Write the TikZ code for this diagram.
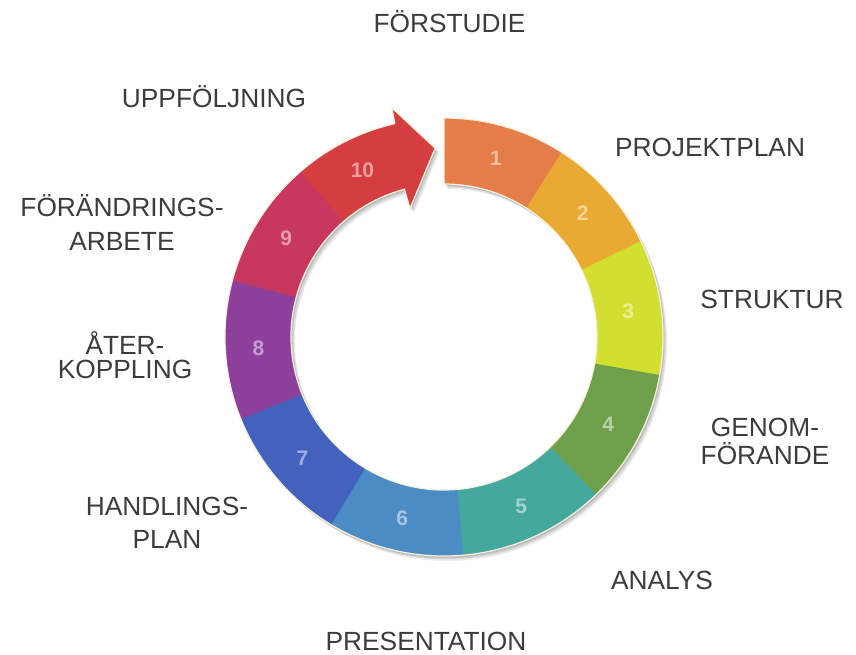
\documentclass[tikz,border=0pt]{standalone}
\usepackage{fontspec}
\setmainfont{Liberation Sans}

% colours of the ten steps
\definecolor{steg1}{HTML}{E47D48}
\definecolor{steg2}{HTML}{E8AA32}
\definecolor{steg3}{HTML}{D3DF30}
\definecolor{steg4}{HTML}{6EA04B}
\definecolor{steg5}{HTML}{44A89E}
\definecolor{steg6}{HTML}{4C8CC4}
\definecolor{steg7}{HTML}{4262BE}
\definecolor{steg8}{HTML}{8C409C}
\definecolor{steg9}{HTML}{C8385E}
\definecolor{steg10}{HTML}{D43E40}
\definecolor{labelgray}{HTML}{3C3C3C}
\definecolor{cream}{HTML}{F6F1DC}

\newcommand\lblfont[1]{\fontsize{26.3}{#1}\selectfont}

\tikzset{
  lbl/.style={text=labelgray, align=center, anchor=base, inner sep=0pt, font=\lblfont{30}},
  nummer/.style={font=\fontsize{21}{21}\selectfont\bfseries, inner sep=0pt},
  kant/.style={draw=cream, line width=1.2pt},
  skugga/.style={fill=black, fill opacity=#1},
}

\begin{document}
\begin{tikzpicture}[x=1pt, y=1pt]
    \useasboundingbox (-444,-318) rectangle (412,337);
    \def\rin{153}
    \def\rout{219}
    \def\rmid{186}
    % outline of the whole ring, arrow included
    \def\ringkontur{(90:\rout) arc[start angle=90, end angle=-257, radius=\rout]
        -- (-257.2:235) -- (-267.3:189) -- (-255.2:133) -- (-255:\rin)
        arc[start angle=-255, end angle=90, radius=\rin] -- cycle}

    % soft shadow
    \fill[skugga=0.07] [shift={(4,-5)}] \ringkontur;
    \fill[skugga=0.10] [shift={(3,-3.5)}] \ringkontur;
    \fill[skugga=0.12] [shift={(1.5,-2)}] \ringkontur;

    % steps 1 to 9
    \foreach \a/\b/\c/\n in {90/57.5/steg1/1, 57.5/26/steg2/2, 26/-10/steg3/3,
        -10/-46/steg4/4, -46/-85/steg5/5, -85/-121/steg6/6, -121/-158/steg7/7,
        -158/-195/steg8/8, -195/-229/steg9/9}
    {
        \fill[\c] (\a:\rin) arc[start angle=\a, end angle=\b-0.6, radius=\rin]
            -- (\b-0.6:\rout) arc[start angle=\b-0.6, end angle=\a, radius=\rout] -- cycle;
        \node[nummer, text=\c!50!white] (n\n) at ({(\a+\b)/2}:\rmid) {\n};
    }

    % step 10 is the arrow
    \fill[steg10] (-229:\rin) arc[start angle=-229, end angle=-255, radius=\rin]
        -- (-255.2:133) -- (-267.3:189) -- (-257.2:235) -- (-257:\rout)
        arc[start angle=-257, end angle=-229, radius=\rout] -- cycle;
    \node[nummer, text=steg10!50!white] (n10) at (-244:\rmid) {10};

    \draw[kant] \ringkontur;

    % labels round the ring (two-line labels sit on their last line)
    \node[lbl] (forstudie) at (5.5,304) {FÖRSTUDIE};
    \node[lbl] (projektplan) at (266,180) {PROJEKTPLAN};
    \node[lbl] (struktur) at (328,28) {STRUKTUR};
    \node[lbl, font=\lblfont{28}] (genomforande) at (321,-128) {GENOM-\\FÖRANDE};
    \node[lbl] (analys) at (218,-252) {ANALYS};
    \node[lbl] (presentation) at (-18,-313) {PRESENTATION};
    \node[lbl, font=\lblfont{33}] (handlingsplan) at (-277,-211) {HANDLINGS-\\PLAN};
    \node[lbl, font=\lblfont{24}] (aterkoppling) at (-319,-42) {ÅTER-\\KOPPLING};
    \node[lbl, font=\lblfont{34}] (forandring) at (-322,86) {FÖRÄNDRINGS-\\ARBETE};
    \node[lbl] (uppfoljning) at (-230,229) {UPPFÖLJNING};
\end{tikzpicture}
\end{document}
